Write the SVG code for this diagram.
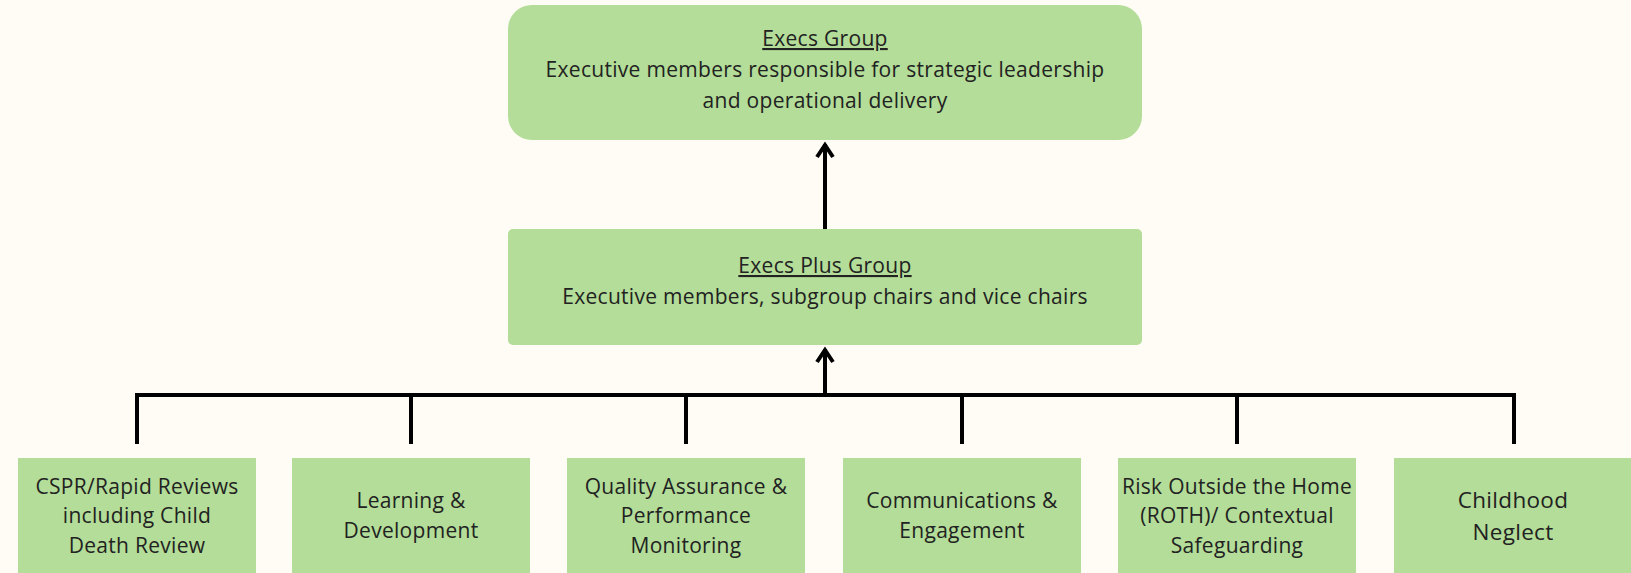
<svg xmlns="http://www.w3.org/2000/svg" width="1631" height="573" viewBox="0 0 1631 573">
  <defs>
    <style>
      .box { fill: #b3dd98; }
      .t { font-family: "Open Sans", "Noto Sans", sans-serif; font-size: 21px; letter-spacing: 0.3px; fill: #222; text-anchor: middle; }
      .tl { font-size: 22.5px; }
      .u { text-decoration: underline; }
      .conn { fill: none; stroke: #000; stroke-width: 4; }
    </style>
    <marker id="arr" markerUnits="userSpaceOnUse" viewBox="-16 -12 20 24" refX="0" refY="0" markerWidth="20" markerHeight="24" orient="auto">
      <path d="M-13,-8 L-1,0 L-13,8" fill="none" stroke="#000" stroke-width="4" stroke-linejoin="miter"/>
    </marker>
  </defs>
  <rect width="1631" height="573" fill="#fefcf5"/>

  <g id="connectors">
    <path class="conn" d="M825,229 V144" marker-end="url(#arr)"/>
    <path class="conn" d="M825,395 V349" marker-end="url(#arr)"/>
    <path class="conn" d="M137,444 V395 H1514 V444"/>
    <path class="conn" d="M411,395 V444 M686,395 V444 M962,395 V444 M1237,395 V444"/>
  </g>

  <g id="execs">
    <rect class="box" x="508" y="5" width="634" height="135" rx="24"/>
    <text class="t u" x="825" y="46">Execs Group</text>
    <text class="t" x="825" y="77">Executive members responsible for strategic leadership</text>
    <text class="t" x="825" y="108">and operational delivery</text>
  </g>

  <g id="execs-plus">
    <rect class="box" x="508" y="229" width="634" height="116" rx="5"/>
    <text class="t u" x="825" y="273">Execs Plus Group</text>
    <text class="t" x="825" y="304">Executive members, subgroup chairs and vice chairs</text>
  </g>

  <g id="cspr">
    <rect class="box" x="18" y="458" width="238" height="120"/>
    <text class="t" x="137" y="494">CSPR/Rapid Reviews</text>
    <text class="t" x="137" y="523">including Child</text>
    <text class="t" x="137" y="553">Death Review</text>
  </g>

  <g id="learning">
    <rect class="box" x="292" y="458" width="238" height="120"/>
    <text class="t" x="411" y="508">Learning &amp;</text>
    <text class="t" x="411" y="538">Development</text>
  </g>

  <g id="quality">
    <rect class="box" x="567" y="458" width="238" height="120"/>
    <text class="t" x="686" y="494">Quality Assurance &amp;</text>
    <text class="t" x="686" y="523">Performance</text>
    <text class="t" x="686" y="553">Monitoring</text>
  </g>

  <g id="comms">
    <rect class="box" x="843" y="458" width="238" height="120"/>
    <text class="t" x="962" y="508">Communications &amp;</text>
    <text class="t" x="962" y="538">Engagement</text>
  </g>

  <g id="roth">
    <rect class="box" x="1118" y="458" width="238" height="120"/>
    <text class="t" x="1237" y="494">Risk Outside the Home</text>
    <text class="t" x="1237" y="523">(ROTH)/ Contextual</text>
    <text class="t" x="1237" y="553">Safeguarding</text>
  </g>

  <g id="neglect">
    <rect class="box" x="1394" y="458" width="240" height="120"/>
    <text class="t tl" x="1513" y="508">Childhood</text>
    <text class="t tl" x="1513" y="540">Neglect</text>
  </g>
</svg>
